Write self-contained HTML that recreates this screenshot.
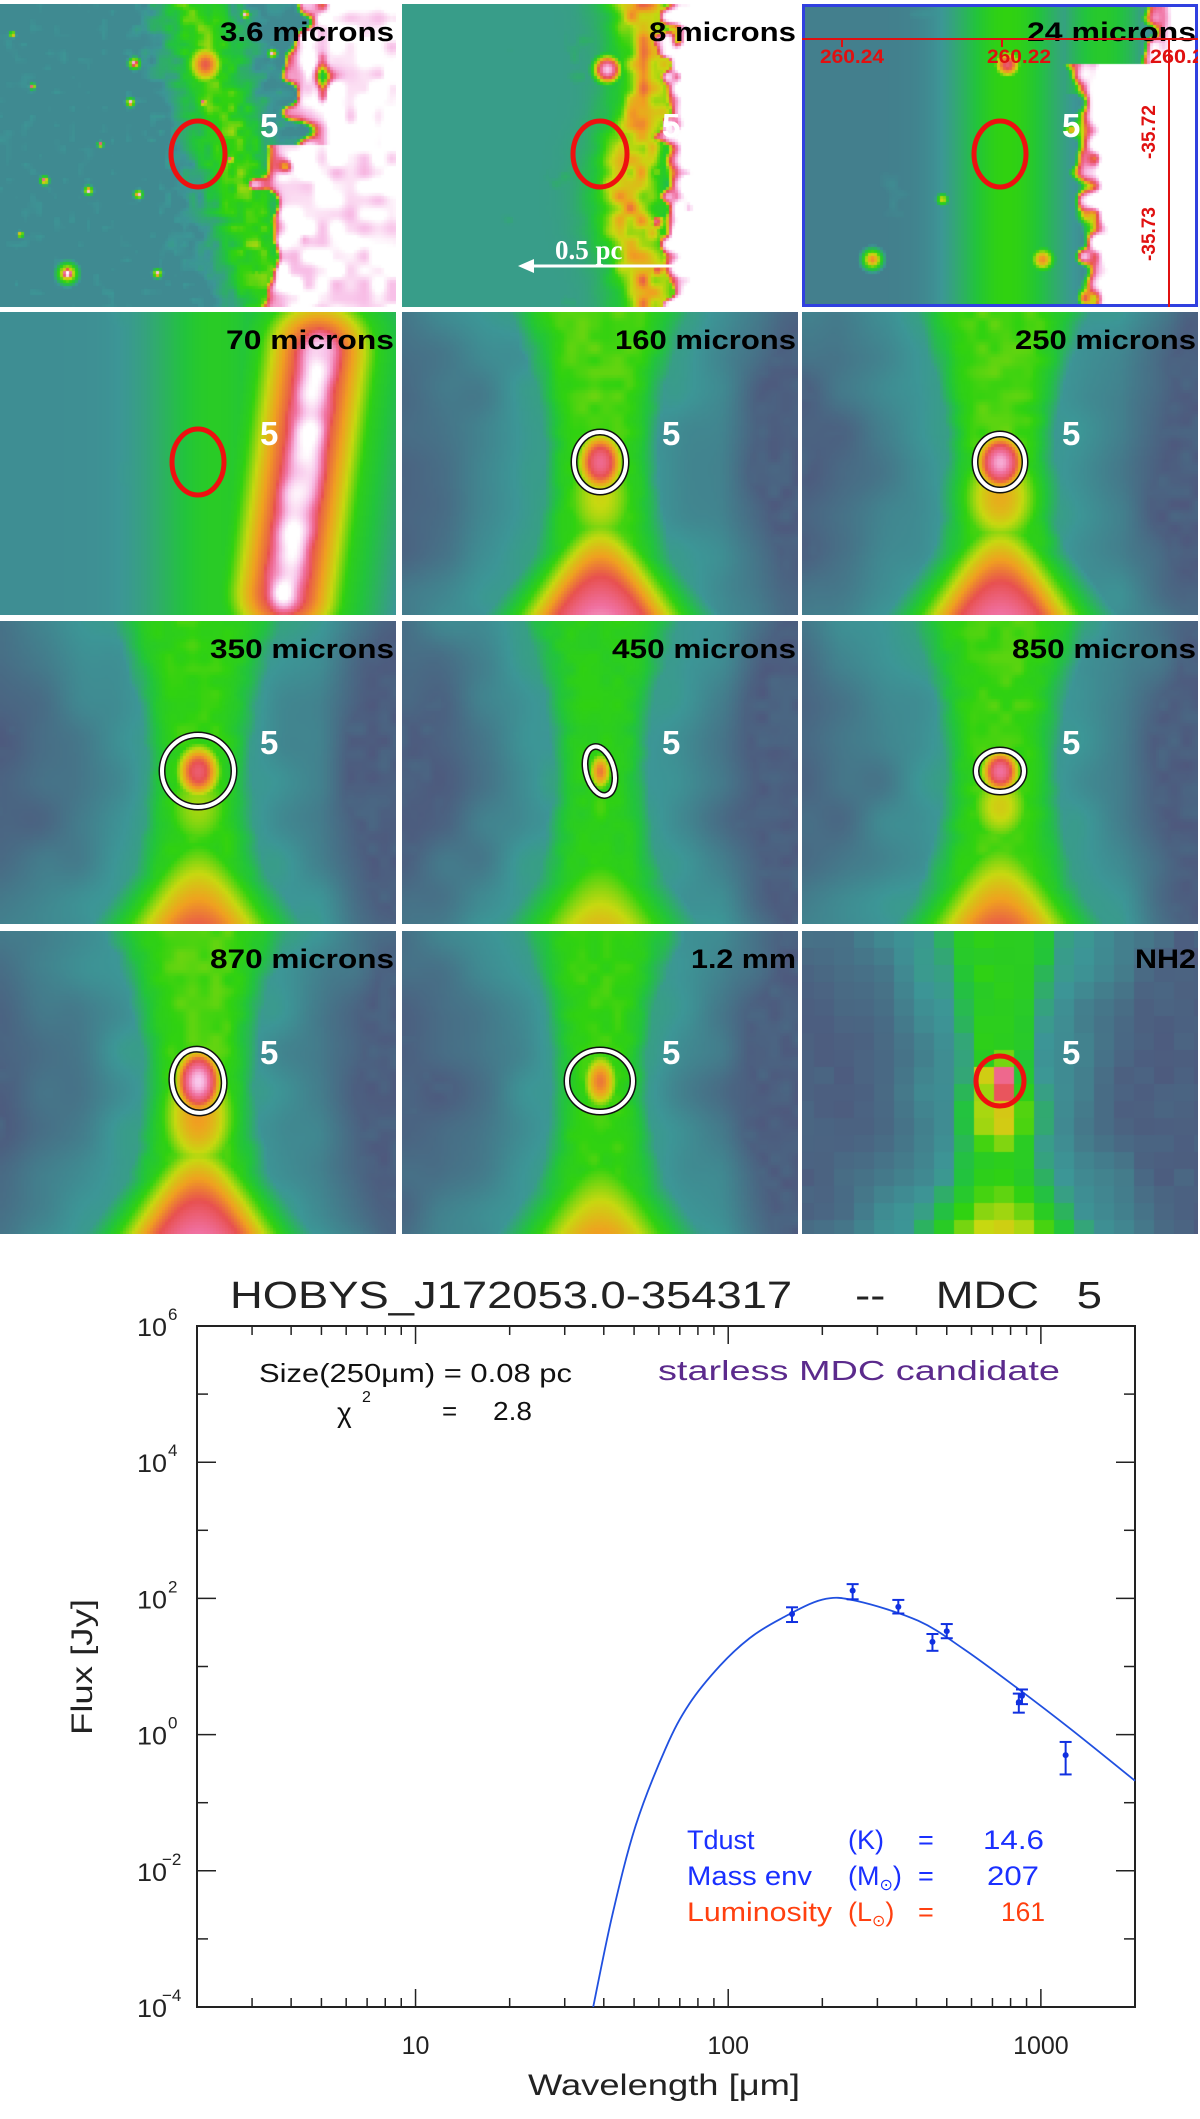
<!DOCTYPE html>
<html><head><meta charset="utf-8"><style>
html,body{margin:0;padding:0;background:#fff;}
body{width:1200px;height:2119px;position:relative;overflow:hidden;font-family:"Liberation Sans",sans-serif;}
.panel{position:absolute;width:396px;height:303px;overflow:hidden;}
.panel canvas{position:absolute;left:0;top:0;}
.panel svg{position:absolute;left:0;top:0;}
</style></head><body>
<div id="panels"></div>

<svg id="chart" width="1200" height="2119" style="position:absolute;left:0;top:0;pointer-events:none;" xmlns="http://www.w3.org/2000/svg">
 <text x="230" y="1308" font-size="38" fill="#222" style="white-space:pre" textLength="872" lengthAdjust="spacingAndGlyphs">HOBYS_J172053.0-354317     --    MDC   5</text>
 <rect x="197" y="1326" width="938" height="681" fill="none" stroke="#222" stroke-width="2"/>
 <g id="ticks"></g>
 <g id="labels"></g>
 <path id="fit" fill="none" stroke="#2050e0" stroke-width="1.8"/>
 <g id="points"></g>
 <text x="259" y="1382" font-size="26" fill="#111" textLength="313" lengthAdjust="spacingAndGlyphs">Size(250μm) = 0.08 pc</text>
 <text x="337" y="1422" font-size="28" fill="#111">χ</text>
 <text x="362" y="1402" font-size="16" fill="#111">2</text>
 <text x="442" y="1420" font-size="26" fill="#111">=</text>
 <text x="493" y="1420" font-size="26" fill="#111" textLength="39" lengthAdjust="spacingAndGlyphs">2.8</text>
 <text x="658" y="1380" font-size="28" fill="#5b2a8c" textLength="402" lengthAdjust="spacingAndGlyphs">starless MDC candidate</text>
 <g font-size="27">
  <text x="687" y="1849" fill="#1a30ff">Tdust</text>
  <text x="848" y="1849" fill="#1a30ff">(K)</text>
  <text x="918" y="1849" fill="#1a30ff">=</text>
  <text x="983" y="1849" fill="#1a30ff" textLength="61" lengthAdjust="spacingAndGlyphs">14.6</text>
  <text x="687" y="1885" fill="#1a30ff" textLength="125" lengthAdjust="spacingAndGlyphs">Mass env</text>
  <text x="848" y="1885" fill="#1a30ff">(M<tspan font-size="16" dy="5">⊙</tspan><tspan dy="-5">)</tspan></text>
  <text x="918" y="1885" fill="#1a30ff">=</text>
  <text x="987" y="1885" fill="#1a30ff" textLength="52" lengthAdjust="spacingAndGlyphs">207</text>
  <text x="687" y="1921" fill="#ff4010" textLength="145" lengthAdjust="spacingAndGlyphs">Luminosity</text>
  <text x="848" y="1921" fill="#ff4010">(L<tspan font-size="16" dy="5">⊙</tspan><tspan dy="-5">)</tspan></text>
  <text x="918" y="1921" fill="#ff4010">=</text>
  <text x="1001" y="1921" fill="#ff4010" textLength="44" lengthAdjust="spacingAndGlyphs">161</text>
 </g>
 <text x="528" y="2095" font-size="30" fill="#222" textLength="272" lengthAdjust="spacingAndGlyphs">Wavelength [μm]</text>
 <text transform="translate(92,1667) rotate(-90)" text-anchor="middle" font-size="30" fill="#222" textLength="136" lengthAdjust="spacingAndGlyphs">Flux [Jy]</text>
</svg>

<script>
// ---- chart data ----
const wavelengths=[160,250,350,450,500,850,870,1200];
const fluxes=[59,130,75,23,33,3.0,3.7,0.5];
const errLow=[45,97,60,17,26,2.1,2.8,0.26];
const errHigh=[74,162,95,30,42,4.0,4.6,0.78];
const curveLam=[37,42.6,50.5,63,75,94,117,147,200,257,405,567,841,1247,2000];
const curveFlux=[1e-4,0.00224,0.045,0.62,2.8,10.2,26,50,96,92,47,18,4.8,1.2,0.21];
const xTickVals=[10,100,1000];
const xTickLabels=["10","100","1000"];
const yTickExps=[-4,-2,0,2,4,6];

const X0=197,X1=1135,Y0=1326,Y1=2007;
const LX0=Math.log10(2),LX1=Math.log10(2000),LY0=6,LY1=-4;
function xs(l){return X0+(Math.log10(l)-LX0)/(LX1-LX0)*(X1-X0);}
function ys(f){return Y0+(LY0-Math.log10(f))/(LY0-LY1)*(Y1-Y0);}
const NS="http://www.w3.org/2000/svg";
function mk(tag,attrs,parent){const e=document.createElementNS(NS,tag);for(const k in attrs)e.setAttribute(k,attrs[k]);parent.appendChild(e);return e;}

const tg=document.getElementById('ticks');
for(let dd=0;dd<=3;dd++){for(let m=1;m<=9;m++){const v=m*Math.pow(10,dd);if(v<2||v>2000)continue;const x=xs(v);const L=(m===1)?18:9;
 const t1=mk('line',{x1:x,x2:x,y1:Y1,y2:Y1-L,stroke:'#222','stroke-width':1.5},tg);
 
 
 const t2=mk('line',{x1:x,x2:x,y1:Y0,y2:Y0+L,stroke:'#222','stroke-width':1.5},tg);
 
 }}
for(let e=-3;e<=5;e++){const y=ys(Math.pow(10,e));const L=(e%2===0)?19:11;
 const t1=mk('line',{x1:X0,x2:X0+L,y1:y,y2:y,stroke:'#222','stroke-width':1.5},tg);
 
 
 const t2=mk('line',{x1:X1,x2:X1-L,y1:y,y2:y,stroke:'#222','stroke-width':1.5},tg);
 
 }
const lg=document.getElementById('labels');
xTickVals.forEach((v,i)=>{const t=mk('text',{x:xs(v),y:2054,'text-anchor':'middle','font-size':25,fill:'#222'},lg);t.textContent=xTickLabels[i];
 
 });
yTickExps.forEach(e=>{const y=ys(Math.pow(10,e));
 const t=mk('text',{x:167,y:y+10,'text-anchor':'end','font-size':25,fill:'#222',textLength:30,lengthAdjust:'spacingAndGlyphs'},lg);t.textContent="10";
 
 
 const s=mk('text',{x:(e<0?162:168),y:y-6,'font-size':17,fill:'#222'},lg);s.textContent=String(e).replace('-','−');
 
 });

// fit curve through read points
const pts=curveLam.map((l,i)=>[xs(l),Math.min(ys(curveFlux[i]),Y1)]);
let pathD="M"+pts[0][0]+","+pts[0][1];
for(let i=0;i<pts.length-1;i++){const p0=pts[Math.max(0,i-1)],p1=pts[i],p2=pts[i+1],p3=pts[Math.min(pts.length-1,i+2)];
 pathD+=" C"+(p1[0]+(p2[0]-p0[0])/6)+","+(p1[1]+(p2[1]-p0[1])/6)+" "+(p2[0]-(p3[0]-p1[0])/6)+","+(p2[1]-(p3[1]-p1[1])/6)+" "+p2[0]+","+p2[1];}
document.getElementById('fit').setAttribute('d',pathD);

const pg=document.getElementById('points');
wavelengths.forEach((l,i)=>{const x=xs(l),y=ys(fluxes[i]),yl=ys(errLow[i]),yh=ys(errHigh[i]);
 const g=mk('g',{stroke:'#1030e0','stroke-width':2,fill:'#1030e0'},pg);
 
 
 mk('line',{x1:x,x2:x,y1:yh,y2:yl},g);
 mk('line',{x1:x-6,x2:x+6,y1:yh,y2:yh},g);
 mk('line',{x1:x-6,x2:x+6,y1:yl,y2:yl},g);
 mk('circle',{cx:x,cy:y,r:3,stroke:'none'},g);});

// ---- image panels ----
const stops=[[0,[76,76,90]],[0.12,[78,88,125]],[0.28,[60,150,150]],[0.42,[34,196,60]],[0.5,[48,210,16]],[0.6,[200,216,16]],[0.68,[240,160,32]],[0.76,[232,80,80]],[0.86,[240,112,160]],[0.94,[248,192,232]],[1,[255,255,255]]];
function cmap(v){v=Math.max(0,Math.min(1,v));for(let i=1;i<stops.length;i++){if(v<=stops[i][0]){const a=stops[i-1],b=stops[i],t=(v-a[0])/(b[0]-a[0]);return [a[1][0]+(b[1][0]-a[1][0])*t,a[1][1]+(b[1][1]-a[1][1])*t,a[1][2]+(b[1][2]-a[1][2])*t];}}return [255,255,255];}
function hash(i,j,s){let h=Math.sin(i*127.1+j*311.7+s*74.7)*43758.5453;return h-Math.floor(h);}
function noise(x,y,s){const i=Math.floor(x),j=Math.floor(y),fx=x-i,fy=y-j;const u=fx*fx*(3-2*fx),v=fy*fy*(3-2*fy);
 const a=hash(i,j,s),b=hash(i+1,j,s),c=hash(i,j+1,s),d=hash(i+1,j+1,s);return a+(b-a)*u+(c-a)*v+(a-b-c+d)*u*v;}
function G(d,s){return Math.exp(-d*d/(2*s*s));}
function sig(t){return 1/(1+Math.exp(-t));}
function segDist(x,y,ax,ay,bx,by){const dx=bx-ax,dy=by-ay;let t=((x-ax)*dx+(y-ay)*dy)/(dx*dx+dy*dy);t=Math.max(0,Math.min(1,t));return Math.hypot(x-ax-t*dx,y-ay-t*dy);}
const stars=[[134,59,4],[130,98,3],[44,176,3],[138,190,3],[67,269,7],[157,269,3],[245,10,3],[272,49,3],[12,30,2],[32,82,2],[88,186,3],[203,98,3],[230,155,3],[20,230,2],[100,140,2]];

function f36(x,y){let I=0.03+0.14*noise(x/35,y/35,1)+0.08*noise(x/10,y/10,2)+0.1*G(x-220,60);
 const c=232+(y-150)*0.25;I=Math.max(I,0.16+0.3*G(x-c,30)+0.12*noise(x/8,y/8,3));
 I=Math.max(I,0.5*G(x-205,14)*G(y-60,16)+0.25);
 const edge=(y<140?300:262+(y-140)*0.05)+26*(noise(x/18,y/18,4)-0.5)*2;
 const s=sig((x-edge)/5);
 I=Math.max(I,s*(0.93+0.15*noise(x/14,y/14,13)));
 for(const st of stars){const dd=Math.hypot(x-st[0],y-st[1]);I=Math.max(I,1.05*G(dd,st[2]*0.7),0.7*G(dd,st[2]*1.5));}
 return I;}
function f8(x,y){let I=0.07+0.17*noise(x/35,y/35,5)+0.06*noise(x/9,y/9,6)+0.1*G(x-210,80);
 const c=238+12*Math.sin(y/40);I=Math.max(I,0.3+0.38*G(x-c,26)*(0.7+0.5*noise(x/12,y/12,7)));
 I=Math.max(I,0.95*G(Math.hypot(x-205,y-65),13));
 const edge=262+16*(noise(x/12,y/12,8)-0.5)*2;I=Math.max(I,1.05*sig((x-edge)/5));
 return I;}
function f24(x,y){let I=0.07+0.1*noise(x/45,y/45,9)+0.05*noise(x/10,y/10,10)+0.1*G(x-200,80);
 I=Math.max(I,0.22+0.28*G(x-205,38));
 I=Math.max(I,0.8*G(Math.hypot(x-205,y-60),13),0.7*G(Math.hypot(x-70,y-255),10),0.62*G(Math.hypot(x-140,y-195),6),0.7*G(Math.hypot(x-240,y-255),12));
 if(y<90)I=Math.max(I,0.45*G(x-300,45));
 const edge=(y<60?345:276+(y-150)*0.03)+12*(noise(x/14,y/14,11)-0.5)*2;I=Math.max(I,1.05*sig((x-edge)/6));
 return I;}
function f70(x,y){let I=0.15+0.07*noise(x/40,y/40,12)+0.14*G(x-200,75);
 I=Math.max(I,0.26+0.2*G(x-215,45));
 const dd=segDist(x,y,318,40,285,280);
 const n=noise(x/20,y/20,14);
 I=Math.max(I,(0.95+0.1*n)*G(dd,30),0.8*G(dd,60),0.6*G(dd,90));
 return I;}
function filament(p){return function(x,y){const dx=x-198,yy=y-150;
 const w=p.w+0.0016*yy*yy;
 let I=0.1+0.05*noise(x/40,y/40,p.seed)+(x>320?-0.06*Math.min(1,(x-320)/60):0)+0.2*G(dx,w*1.6);
 const q=dx/w;
 I=Math.max(I,0.12+p.fil*Math.exp(-q*q*q*q)+0.04*noise(x/12,y/12,p.seed+1));
 const a=dx/p.sx,b=yy/p.sy;
 I=Math.max(I,p.core*Math.exp(-(a*a+b*b)));
 const a2=dx/(p.sx*2),b2=(y-185)/(p.sy*2.2);
 I=Math.max(I,(p.core*0.72)*Math.exp(-(a2*a2+b2*b2)));
 const bw=30+Math.max(0,y-160)*0.55,bt=Math.max(0,Math.min(1,(y-160)/140));
 const c=dx/bw;
 I=Math.max(I,p.bot*Math.exp(-(c*c))*Math.pow(bt,0.5));
 return I;};}

const panels=[
 {name:'3.6 microns',c:0,r:0,f:f36,tl:174,ring:'red',rx:27,ry:33,rot:0},
 {name:'8 microns',c:1,r:0,f:f8,tl:147,ring:'red',rx:27,ry:33,rot:0},
 {name:'24 microns',c:2,r:0,f:f24,tl:169,ring:'red',rx:26,ry:33,rot:0},
 {name:'70 microns',c:0,r:1,f:f70,tl:168,ring:'red',rx:26,ry:33,rot:0},
 {name:'160 microns',c:1,r:1,f:filament({w:58,fil:0.38,core:0.84,sx:34,sy:45,bot:0.88,seed:20}),tl:181,ring:'white',rx:26,ry:30,rot:0},
 {name:'250 microns',c:2,r:1,f:filament({w:55,fil:0.38,core:0.92,sx:34,sy:40,bot:0.86,seed:22}),tl:181,ring:'white',rx:25,ry:28,rot:0},
 {name:'350 microns',c:0,r:2,f:filament({w:55,fil:0.36,core:0.8,sx:34,sy:42,bot:0.74,seed:24}),tl:184,ring:'white',rx:36,ry:36,rot:0},
 {name:'450 microns',c:1,r:2,f:filament({w:50,fil:0.34,core:0.72,sx:18,sy:30,bot:0.64,seed:26}),tl:184,ring:'white',rx:14,ry:25,rot:-15},
 {name:'850 microns',c:2,r:2,f:filament({w:60,fil:0.37,core:0.86,sx:28,sy:32,bot:0.74,seed:28}),tl:184,ring:'white',rx:24,ry:21,rot:0},
 {name:'870 microns',c:0,r:3,f:filament({w:58,fil:0.38,core:0.95,sx:32,sy:45,bot:0.86,seed:30}),tl:184,ring:'white',rx:26,ry:32,rot:-8},
 {name:'1.2 mm',c:1,r:3,f:filament({w:50,fil:0.36,core:0.72,sx:28,sy:45,bot:0.68,seed:32}),tl:105,ring:'white',rx:33,ry:31,rot:0},
 {name:'NH2',c:2,r:3,f:filament({w:40,fil:0.34,core:0.88,sx:28,sy:34,bot:0.62,seed:34}),tl:61,ring:'red',rx:24,ry:25,rot:0,block:true}
];
const colX=[0,402,802],rowY=[4,312,621,931];
const host=document.getElementById('panels');
panels.forEach(p=>{
 const div=document.createElement('div');div.className='panel';
 
 
 div.style.left=colX[p.c]+'px';div.style.top=rowY[p.r]+'px';
 const cv=document.createElement('canvas');cv.width=396;cv.height=303;
 
 
 div.appendChild(cv);
 const ctx=cv.getContext('2d');const img=ctx.createImageData(396,303);
 for(let y=0;y<303;y++)for(let x=0;x<396;x++){
  let ex=x,ey=y;
  if(p.block){ex=Math.floor((x+8)/20)*20+2;ey=Math.floor(y/17)*17+8;}
  else{ex=Math.floor(x/3)*3+1;ey=Math.floor(y/3)*3+1;}
  const c=cmap(p.f(ex,ey));const k=(y*396+x)*4;img.data[k]=c[0];img.data[k+1]=c[1];img.data[k+2]=c[2];img.data[k+3]=255;}
 ctx.putImageData(img,0,0);
 const sv=document.createElementNS(NS,'svg');sv.setAttribute('width',396);sv.setAttribute('height',303);
 
 
 div.appendChild(sv);
 if(p.ring==='white'){
  const e1=mk('ellipse',{cx:198,cy:150,rx:p.rx,ry:p.ry,fill:'none',stroke:'#111','stroke-width':7,transform:'rotate('+p.rot+' 198 150)'},sv);
  
  
  const e2=mk('ellipse',{cx:198,cy:150,rx:p.rx,ry:p.ry,fill:'none',stroke:'#fff','stroke-width':4,transform:'rotate('+p.rot+' 198 150)'},sv);
  
  
 }else{
  const e=mk('ellipse',{cx:198,cy:150,rx:p.rx,ry:p.ry,fill:'none',stroke:'#ee1010','stroke-width':5},sv);
  
  
 }
 const lab=mk('text',{x:394,y:37,'text-anchor':'end','font-size':27,'font-weight':'bold',fill:'#000',textLength:p.tl,lengthAdjust:'spacingAndGlyphs'},sv);
 lab.textContent=p.name;
 
 
 const five=mk('text',{x:260,y:133,'font-size':33,'font-weight':'bold',fill:'#fff'},sv);five.textContent='5';
 
 
 if(p.name==='8 microns'){
  const ar=mk('g',{},sv);
  
  
  mk('line',{x1:128,x2:275,y1:262,y2:262,stroke:'#fff','stroke-width':3},ar);
  mk('polygon',{points:'116,262 132,255 132,269',fill:'#fff'},ar);
  const t=mk('text',{x:153,y:255,'font-size':27,'font-weight':'bold','font-family':'"Liberation Serif",serif',fill:'#fff'},ar);t.textContent='0.5 pc';
 }
 if(p.name==='24 microns'){
  const g=mk('g',{},sv);
  
  
  mk('rect',{x:1.5,y:1.5,width:393,height:300,fill:'none',stroke:'#3040e0','stroke-width':3},g);
  mk('line',{x1:0,x2:396,y1:35,y2:35,stroke:'#e01010','stroke-width':2},g);
  mk('line',{x1:367,x2:367,y1:35,y2:303,stroke:'#e01010','stroke-width':2},g);
  [40,200].forEach(x=>mk('line',{x1:x,x2:x,y1:35,y2:43,stroke:'#e01010','stroke-width':2},g));
  [[18,'260.24',64],[185,'260.22',64],[348,'260.2',54]].forEach(a=>{const t=mk('text',{x:a[0],y:59,'font-size':19,'font-weight':'bold',fill:'#e01010',textLength:a[2],lengthAdjust:'spacingAndGlyphs'},g);t.textContent=a[1];});
  [[128,'-35.72'],[230,'-35.73']].forEach(a=>{const t=mk('text',{x:0,y:0,'font-size':19,'font-weight':'bold',fill:'#e01010','text-anchor':'middle',transform:'translate(353,'+a[0]+') rotate(-90)'},g);t.textContent=a[1];});
 }
 host.appendChild(div);
});
</script>
</body></html>
